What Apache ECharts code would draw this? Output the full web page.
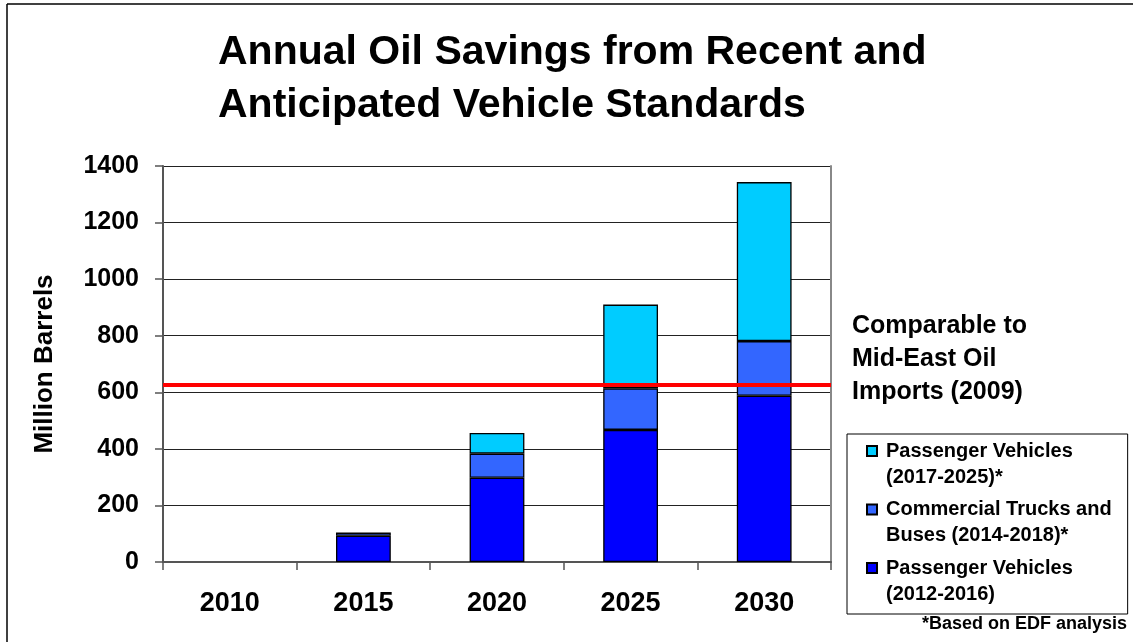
<!DOCTYPE html>
<html>
<head>
<meta charset="utf-8">
<script src="https://cdn.jsdelivr.net/npm/echarts@6/dist/echarts.min.js"></script>
<style>
html,body{margin:0;padding:0;background:#fff;}
#chart{width:1133px;height:642px;}
</style>
</head>
<body>
<div id="chart"></div>
<script>
const categories = ['2010', '2015', '2020', '2025', '2030'];
const pv2012 = [0, 93, 298, 467, 588];
const trucks2014 = [0, 11, 85, 147, 193];
const pv2017 = [0, 0, 73, 296, 562];
const midEastImports2009 = 627;
const yMin = 0, yMax = 1400, yStep = 200;

const nameA = 'Passenger Vehicles\n(2017-2025)*';
const nameB = 'Commercial Trucks and\nBuses (2014-2018)*';
const nameC = 'Passenger Vehicles\n(2012-2016)';

const FONT = '"Liberation Sans", Arial, sans-serif';
const toBar = arr => arr.map(v => (v === 0 ? '-' : v));
const border = { borderColor: '#000', borderWidth: 1.3 };
const legendIcon = 'path://M0,5 L10,5 L10,15 L0,15 Z M14,0 M14,46';

const chart = echarts.init(document.getElementById('chart'), null, { renderer: 'canvas' });
chart.setOption({
  backgroundColor: '#fff',
  animation: false,
  title: {
    text: 'Annual Oil Savings from Recent and\nAnticipated Vehicle Standards',
    left: 218, top: 26, padding: 0,
    textStyle: { fontFamily: FONT, fontSize: 41, fontWeight: 'bold', color: '#000', lineHeight: 53 }
  },
  grid: { left: 163, right: 302, top: 166, bottom: 80, containLabel: false },
  legend: {
    orient: 'vertical', left: 847, top: 434, align: 'left',
    data: [nameA, nameB, nameC],
    itemWidth: 14, itemHeight: 46, itemGap: 6.5,
    icon: legendIcon,
    padding: [4, 16, 7, 19],
    borderColor: '#000', borderWidth: 1, backgroundColor: '#fff',
    selectedMode: false,
    textStyle: { fontFamily: FONT, fontSize: 20, fontWeight: 'bold', color: '#000', lineHeight: 26 }
  },
  xAxis: {
    type: 'category', data: categories,
    axisLine: { lineStyle: { color: '#555', width: 2 } },
    axisTick: { show: true, length: 8, interval: 0, lineStyle: { color: '#555', width: 1.5 } },
    axisLabel: { margin: 28, fontFamily: FONT, fontSize: 27, fontWeight: 'bold', color: '#000' },
    splitLine: { show: false }
  },
  yAxis: [{
    type: 'value', min: yMin, max: yMax, interval: yStep,
    name: 'Million Barrels', nameLocation: 'middle', nameRotate: 90, nameGap: 105,
    nameTextStyle: { fontFamily: FONT, fontSize: 26, fontWeight: 'bold', color: '#000' },
    axisLine: { show: true, lineStyle: { color: '#555', width: 2 } },
    axisTick: { show: true, length: 8, lineStyle: { color: '#555', width: 1.5 } },
    axisLabel: { margin: 24, fontFamily: FONT, fontSize: 25, fontWeight: 'bold', color: '#000',
      padding: [6, 0, 0, 0], formatter: v => String(v) },
    splitLine: { show: true, lineStyle: { color: '#222', width: 1 } }
  }, {
    type: 'value', min: yMin, max: yMax, interval: yStep, position: 'right',
    axisLine: { show: true, lineStyle: { color: '#888', width: 2 } },
    axisTick: { show: false }, axisLabel: { show: false }, splitLine: { show: false }
  }],
  series: [
    { name: nameC, type: 'bar', stack: 'oil', barWidth: '41%', data: toBar(pv2012),
      itemStyle: Object.assign({ color: '#0000FF' }, border) },
    { name: nameB, type: 'bar', stack: 'oil', barWidth: '41%', data: toBar(trucks2014),
      itemStyle: Object.assign({ color: '#3366FF' }, border) },
    { name: nameA, type: 'bar', stack: 'oil', barWidth: '41%', data: toBar(pv2017),
      itemStyle: Object.assign({ color: '#00CCFF' }, border),
      markLine: {
        silent: true, symbol: ['none', 'none'], label: { show: false },
        lineStyle: { color: '#FF0000', width: 4, type: 'solid' },
        emphasis: { disabled: true },
        data: [{ yAxis: midEastImports2009 }]
      } }
  ],
  graphic: [
    { type: 'line', shape: { x1: 7, y1: 4, x2: 1133, y2: 4 }, style: { stroke: '#000', lineWidth: 1.5 }, silent: true },
    { type: 'line', shape: { x1: 7, y1: 4, x2: 7, y2: 642 }, style: { stroke: '#000', lineWidth: 1.5 }, silent: true },
    { type: 'text', left: 852, top: 310, silent: true,
      style: { text: 'Comparable to\nMid-East Oil\nImports (2009)', font: 'bold 25px ' + FONT, fill: '#000', lineHeight: 33 } },
    { type: 'text', right: 6, top: 615, silent: true,
      style: { text: '*Based on EDF analysis', font: 'bold 18px ' + FONT, fill: '#000' } }
  ]
});
</script>
</body>
</html>
